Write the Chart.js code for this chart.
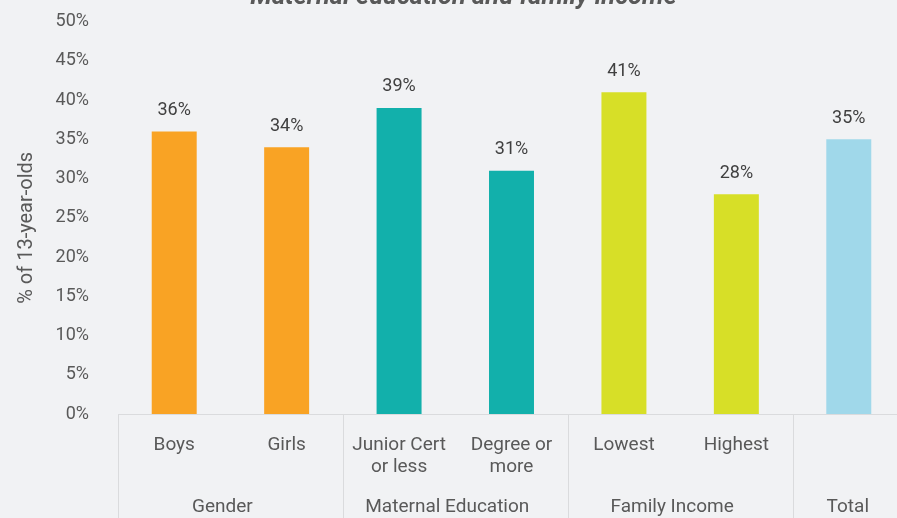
<!DOCTYPE html>
<html>
<head>
<meta charset="utf-8">
<script src="https://cdn.jsdelivr.net/npm/chart.js@4.4.1/dist/chart.umd.min.js"></script>
<style>
  html, body { margin: 0; padding: 0; background: #F1F2F4; overflow: hidden; }
  body { width: 897px; height: 518px; position: relative; }
  #chart { position: absolute; left: 0; top: -40px; }
</style>
</head>
<body>
<canvas id="chart" width="910" height="560"></canvas>
<script>
// Share of 13-year-olds, split by gender, maternal education and family income
const categories = [["Boys"], ["Girls"], ["Junior Cert", "or less"], ["Degree or", "more"], ["Lowest"], ["Highest"], [""]];
const values = [36, 34, 39, 31, 41, 28, 35];
const groups = ["Gender", "Maternal Education", "Family Income", "Total"];
const groupSizes = [2, 2, 2, 1];
const yTicks = [0, 5, 10, 15, 20, 25, 30, 35, 40, 45, 50];
const yTitle = "% of 13-year-olds";

const GROUP_COLORS = ["#F9A324", "#12B0AB", "#D7DF27", "#A0D8EA"];
const TEXT = "#595959";
const LINE = "#DADBDD";

Chart.defaults.font.family = "Roboto, 'Noto Sans', sans-serif";

// one colour per bar, taken from the group it belongs to
const barColors = [];
groupSizes.forEach((n, g) => { for (let i = 0; i < n; i++) barColors.push(GROUP_COLORS[g]); });

// value labels over each bar
const valueLabels = {
  id: "valueLabels",
  afterDatasetsDraw(chart) {
    const { ctx } = chart;
    const meta = chart.getDatasetMeta(0);
    ctx.save();
    ctx.font = "18px Roboto, sans-serif";
    ctx.fillStyle = "#404040";
    ctx.textAlign = "center";
    ctx.textBaseline = "middle";
    meta.data.forEach((bar, i) => {
      ctx.fillText(values[i] + "%", bar.x, bar.y - 21);
    });
    ctx.restore();
  },
};

// group row under the category labels, separators between groups, y axis title
const groupAxis = {
  id: "groupAxis",
  afterDraw(chart) {
    const { ctx, chartArea } = chart;
    const x = chart.scales.x;
    const top = chartArea.bottom;
    const bottom = chart.height;
    ctx.save();
    ctx.strokeStyle = LINE;
    ctx.lineWidth = 1;
    ctx.font = "19px Roboto, sans-serif";
    ctx.fillStyle = TEXT;
    ctx.textAlign = "center";
    ctx.textBaseline = "middle";
    let start = 0;
    groupSizes.forEach((n, g) => {
      const left = x.getPixelForValue(start - 0.5);
      const right = x.getPixelForValue(start + n - 0.5);
      ctx.beginPath();
      ctx.moveTo(Math.round(left) + 0.5, top);
      ctx.lineTo(Math.round(left) + 0.5, bottom);
      ctx.stroke();
      const shift = n > 1 ? -8 : -1;
      ctx.fillText(groups[g], (left + right) / 2 + shift, top + 93);
      start += n;
    });

    // rotated axis title, sits a little below the middle of the plot
    ctx.font = "20px Roboto, sans-serif";
    ctx.translate(27, (chartArea.top + chartArea.bottom) / 2 + 10);
    ctx.rotate(-Math.PI / 2);
    ctx.fillText(yTitle, 0, 0);
    ctx.restore();
  },
};

new Chart(document.getElementById("chart"), {
  type: "bar",
  data: {
    labels: categories,
    datasets: [{
      data: values,
      backgroundColor: barColors,
      borderWidth: 0,
      barPercentage: 0.4,
      categoryPercentage: 1,
    }],
  },
  options: {
    responsive: false,
    animation: false,
    layout: { padding: { top: 0, right: 5, bottom: 0, left: 22 } },
    plugins: {
      legend: { display: false },
      tooltip: { enabled: false },
      title: {
        display: true,
        text: "Maternal education and family income",
        color: TEXT,
        font: { size: 25.5, weight: "bold", style: "italic" },
        padding: { top: 22.5, bottom: 8.5 },
      },
    },
    scales: {
      x: {
        grid: { display: false, drawTicks: false },
        border: { display: true, color: LINE, width: 1 },
        ticks: {
          color: TEXT,
          font: { size: 19, lineHeight: "22px" },
          padding: 20,
          maxRotation: 0,
          autoSkip: false,
        },
        afterFit: s => { s.height = 106; },
      },
      y: {
        min: 0,
        max: 50,
        grid: { display: false, drawTicks: false },
        border: { display: false },
        afterBuildTicks: s => { s.ticks = yTicks.map(v => ({ value: v })); },
        ticks: {
          color: TEXT,
          font: { size: 18 },
          padding: 29,
          callback: v => v + "%",
        },
        afterFit: s => { s.width = 96; },
      },
    },
  },
  plugins: [valueLabels, groupAxis],
});
</script>
</body>
</html>
